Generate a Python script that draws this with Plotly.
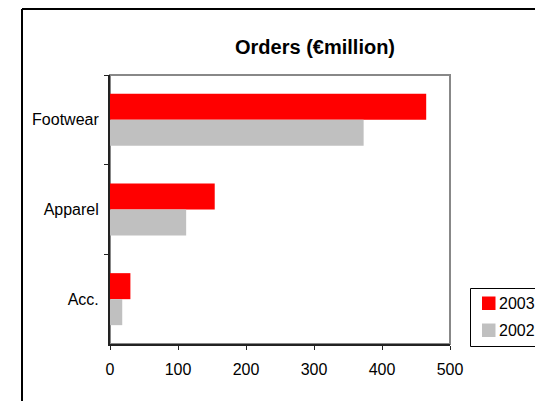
import plotly.graph_objects as go

categories = ["Footwear", "Apparel", "Acc."]
orders_2003 = [465, 154, 30]
orders_2002 = [373, 112, 18]
series_names = ["2003", "2002"]
series_colors = ["#FF0000", "#C0C0C0"]
x_ticks = [0, 100, 200, 300, 400, 500]

W, H = 535, 401
L, R, T, B = 110, 85, 75, 57
pw, ph = W - L - R, H - T - B

def px_x(x):
    return (x - L) / pw

def px_y(y):
    return (H - B - y) / ph

font = "Liberation Sans, Arial, sans-serif"

fig = go.Figure()
for name, vals, col in zip(series_names, [orders_2003, orders_2002], series_colors):
    fig.add_trace(go.Bar(y=categories, x=vals, orientation="h", name=name,
                         marker=dict(color=col, line=dict(width=0)), showlegend=False))

shapes = [
    dict(type="rect", xref="paper", yref="paper", x0=0, x1=1, y0=0, y1=1,
         line=dict(color="#888", width=2), layer="below"),
    dict(type="line", xref="paper", yref="paper", x0=px_x(22), x1=px_x(22),
         y0=px_y(9), y1=px_y(420), line=dict(color="#000", width=2)),
    dict(type="line", xref="paper", yref="paper", x0=px_x(22), x1=px_x(560),
         y0=px_y(9), y1=px_y(9), line=dict(color="#000", width=2)),
    # legend box
    dict(type="rect", xref="paper", yref="paper", x0=px_x(470.5), x1=px_x(560),
         y0=px_y(346.5), y1=px_y(288.5), line=dict(color="#000", width=1),
         fillcolor="white"),
]
annotations = [dict(text="<b>Orders (€million)</b>", x=px_x(315), y=px_y(47),
                    xref="paper", yref="paper", xanchor="center", yanchor="middle",
                    showarrow=False, font=dict(size=20, family=font, color="#000"))]
legend_rows = [303, 330]
for name, col, yc in zip(series_names, series_colors, legend_rows):
    shapes.append(dict(type="rect", xref="paper", yref="paper",
                       x0=px_x(482), x1=px_x(495.5), y0=px_y(yc + 7), y1=px_y(yc - 6.5),
                       line=dict(width=0), fillcolor=col))
    annotations.append(dict(text=name, x=px_x(496.5), y=px_y(yc), xref="paper", yref="paper",
                            xanchor="left", yanchor="middle", showarrow=False,
                            font=dict(size=16, family=font, color="#000")))

fig.update_layout(
    width=W, height=H,
    margin=dict(l=L, r=R, t=T, b=B, autoexpand=False),
    paper_bgcolor="white", plot_bgcolor="white",
    barmode="group", bargap=0.42, bargroupgap=0,
    font=dict(family=font, size=16, color="#000"),
    showlegend=False,
    annotations=annotations,
    shapes=shapes,
)
fig.update_xaxes(range=[0, 500], tickvals=x_ticks, ticks="outside", ticklen=4,
                 tickcolor="#222", showline=True, linecolor="#222", linewidth=2,
                 showgrid=False, zeroline=False, fixedrange=True,
                 ticklabelstandoff=6, tickfont=dict(size=16, family=font))
fig.update_yaxes(autorange="reversed", type="category", ticks="outside", ticklen=4,
                 tickson="boundaries", tickcolor="#222", showline=True,
                 linecolor="#222", linewidth=2, showgrid=False, zeroline=False,
                 ticklabelstandoff=6, tickfont=dict(size=16, family=font))

fig.write_html("out.html")
